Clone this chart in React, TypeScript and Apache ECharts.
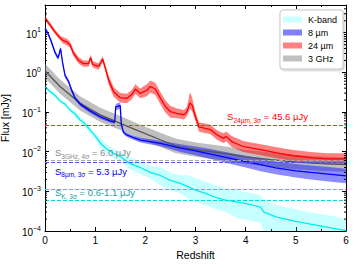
import React, { useEffect, useRef } from 'react';
import * as echarts from 'echarts';

const FONT = '"Liberation Sans", Arial, Helvetica, sans-serif';

// ---- 24 micron (red) ----
const redZ = [0, 0.1, 0.2, 0.3, 0.37, 0.43, 0.5, 0.57, 0.67, 0.77, 0.87, 0.91, 0.95, 1.07, 1.15, 1.2, 1.27, 1.37, 1.5, 1.63, 1.73, 1.8, 1.9, 2.03, 2.1, 2.2, 2.3, 2.4, 2.5, 2.63, 2.77, 2.83, 2.89, 2.93, 3.0, 3.07, 3.3, 3.42, 3.55, 3.62, 3.72, 3.95, 4.3, 4.62, 4.95, 5.3, 5.62, 5.95, 6.0];
const redF = [23.4, 15.8, 10.5, 7.4, 6.3, 5.9, 5.0, 3.0, 2.0, 1.66, 1.66, 2.34, 1.58, 1.41, 2.14, 1.32, 0.63, 0.32, 0.23, 0.22, 0.275, 0.38, 0.295, 0.355, 0.44, 0.38, 0.224, 0.138, 0.102, 0.093, 0.085, 0.102, 0.17, 0.151, 0.076, 0.042, 0.036, 0.027, 0.022, 0.024, 0.018, 0.0135, 0.0112, 0.0093, 0.0079, 0.0071, 0.0066, 0.0066, 0.0071];
const redHi = [26.9, 18.2, 12.0, 8.5, 7.6, 7.1, 6.0, 3.6, 2.4, 2.0, 2.0, 2.8, 1.9, 1.7, 2.57, 1.58, 0.83, 0.42, 0.30, 0.29, 0.36, 0.5, 0.39, 0.5, 0.62, 0.54, 0.32, 0.195, 0.145, 0.123, 0.112, 0.135, 0.32, 0.24, 0.1, 0.055, 0.048, 0.035, 0.029, 0.032, 0.025, 0.0186, 0.0155, 0.0129, 0.011, 0.0098, 0.0091, 0.0091, 0.0098];
const redLo = [20.4, 13.8, 9.1, 6.5, 5.2, 4.9, 4.2, 2.5, 1.66, 1.38, 1.38, 1.95, 1.32, 1.17, 1.78, 1.1, 0.48, 0.24, 0.174, 0.166, 0.21, 0.29, 0.224, 0.25, 0.31, 0.27, 0.158, 0.098, 0.072, 0.071, 0.065, 0.078, 0.12, 0.107, 0.058, 0.032, 0.0275, 0.0204, 0.0166, 0.018, 0.0132, 0.0098, 0.0081, 0.0068, 0.0058, 0.0051, 0.0048, 0.0048, 0.0051];

// ---- 8 micron (blue) ----
const blueZ = [0, 0.03, 0.07, 0.12, 0.2, 0.26, 0.29, 0.31, 0.35, 0.4, 0.47, 0.53, 0.6, 0.7, 0.9, 1.1, 1.3, 1.39, 1.41, 1.5, 1.52, 1.56, 1.62, 1.75, 1.9, 2.3, 2.7, 3.0, 3.3, 3.7, 4.0, 4.3, 4.6, 5.0, 5.3, 5.6, 6.0];
const blueF = [12.6, 11.2, 8.9, 6.3, 3.16, 2.3, 3.16, 4.0, 1.78, 0.83, 0.59, 0.36, 0.224, 0.158, 0.107, 0.076, 0.06, 0.056, 0.135, 0.145, 0.05, 0.0316, 0.0269, 0.0229, 0.0195, 0.0162, 0.0123, 0.0105, 0.0087, 0.0068, 0.0056, 0.0047, 0.0039, 0.0033, 0.003, 0.00275, 0.00245];
const blueHi = [14.1, 12.6, 10, 7.1, 3.55, 2.57, 3.55, 4.5, 2.0, 0.93, 0.66, 0.41, 0.25, 0.178, 0.12, 0.085, 0.068, 0.063, 0.162, 0.174, 0.056, 0.035, 0.03, 0.0257, 0.0224, 0.019, 0.0155, 0.0135, 0.0117, 0.0093, 0.0079, 0.0068, 0.0056, 0.0049, 0.0045, 0.0042, 0.0037];
const blueLo = [11.2, 10, 7.9, 5.6, 2.8, 2.04, 2.8, 3.55, 1.58, 0.74, 0.52, 0.32, 0.2, 0.141, 0.095, 0.068, 0.054, 0.05, 0.112, 0.12, 0.045, 0.028, 0.024, 0.0204, 0.017, 0.0138, 0.0098, 0.0081, 0.0065, 0.0049, 0.004, 0.0032, 0.0027, 0.00224, 0.002, 0.0018, 0.0016];

// ---- 3 GHz (gray) ----
const grayZ = [0, 0.3, 0.7, 1.1, 1.5, 1.9, 2.3, 2.6, 3.0, 3.5, 4.0, 4.5, 5.0, 5.5, 6.0];
const grayF = [1.1, 0.44, 0.166, 0.085, 0.052, 0.032, 0.02, 0.0141, 0.0112, 0.0093, 0.0074, 0.0063, 0.0055, 0.005, 0.0047];
const grayHi = [1.66, 0.66, 0.25, 0.129, 0.079, 0.048, 0.03, 0.0214, 0.017, 0.0141, 0.0112, 0.0095, 0.0083, 0.0076, 0.0071];
const grayLo = [0.72, 0.29, 0.11, 0.056, 0.035, 0.021, 0.0132, 0.0093, 0.0074, 0.0062, 0.0049, 0.0042, 0.0036, 0.0033, 0.0031];

// ---- K-band (cyan) ----
const kZ = [0, 0.1, 0.2, 0.3, 0.4, 0.5, 0.6, 0.7, 0.77, 0.87, 0.93, 1.0, 1.03, 1.1, 1.23, 1.37, 1.5, 1.7, 1.9, 2.1, 2.3, 2.5, 2.7, 2.85, 3.0, 3.2, 3.42, 3.6, 3.82, 4.1, 4.3, 4.36, 4.62, 5.0, 5.4, 5.75, 6.0];
const kF = [0.43, 0.33, 0.263, 0.19, 0.158, 0.112, 0.089, 0.063, 0.055, 0.039, 0.0316, 0.0251, 0.0224, 0.0166, 0.0117, 0.0091, 0.0076, 0.005, 0.004, 0.003, 0.00251, 0.0019, 0.00158, 0.00132, 0.00107, 0.00089, 0.00069, 0.0006, 0.00054, 0.00046, 0.0004, 0.0003, 0.000224, 0.000174, 0.000141, 0.000117, 0.000102];
const kHi = [0.48, 0.37, 0.295, 0.214, 0.178, 0.126, 0.107, 0.076, 0.066, 0.047, 0.038, 0.03, 0.027, 0.022, 0.0155, 0.012, 0.01, 0.0072, 0.0058, 0.0044, 0.004, 0.003, 0.0025, 0.0026, 0.00214, 0.00178, 0.00138, 0.0012, 0.00107, 0.00091, 0.00079, 0.0006, 0.00045, 0.00035, 0.00028, 0.000234, 0.0002];
const kLo = [0.38, 0.295, 0.234, 0.17, 0.141, 0.1, 0.074, 0.052, 0.046, 0.032, 0.026, 0.021, 0.0186, 0.0126, 0.0089, 0.0069, 0.0058, 0.0035, 0.00275, 0.0021, 0.00141, 0.00107, 0.00089, 0.00066, 0.00054, 0.00045, 0.00035, 0.0003, 0.000214, 0.000182, 0.000158, 0.000095, 0.00007, 0.000055, 0.000045, 0.000037, 0.000032];

// ---- detection limits (mJy) ----
const limit24 = 0.0456;
const limit3GHz = 0.006;
const limit8 = 0.0053;
const limitKHigh = 0.0011;
const limitKLow = 0.0006;

const legendNames = ['K-band', '8 µm', '24 µm', '3 GHz'];
const legendColors = ['#ccffff', '#8080ff', '#ff8080', '#c0c0c0'];

const xMin = 0;
const xMax = 6;
const yMin = 1e-4;
const yMax = 50;

// minor tick positions on the log axis (2..9 x 10^k)
const minorTicks: number[] = [];
for (let e = -4; e <= 1; e++) {
  for (let m = 2; m <= 9; m++) {
    const v = m * Math.pow(10, e);
    if (v < yMax) minorTicks.push(v);
  }
}

const pairs = (z: number[], f: number[]) => z.map((x, i) => [x, f[i]]);

const band = (name: string, z: number[], hi: number[], lo: number[], fill: string, opacity: number, zl: number) => ({
  type: 'custom',
  name,
  silent: true,
  z: zl,
  itemStyle: { color: fill },
  data: pairs(z, hi),
  renderItem: (params: any, api: any) => {
    if (params.dataIndex !== 0) return null;
    const pts: number[][] = [];
    for (let i = 0; i < z.length; i++) pts.push(api.coord([z[i], hi[i]]));
    for (let i = z.length - 1; i >= 0; i--) pts.push(api.coord([z[i], lo[i]]));
    const cs = params.coordSys;
    return {
      type: 'polygon',
      shape: { points: pts },
      style: { fill, opacity },
      clipPath: { type: 'rect', shape: { x: cs.x, y: cs.y, width: cs.width, height: cs.height } },
    };
  },
});

const subRich = (color: string) => ({
  s: { fontSize: 9.5, color, fontFamily: FONT, verticalAlign: 'top', lineHeight: 12 },
  sub: { fontSize: 6.5, color, fontFamily: FONT, verticalAlign: 'bottom', lineHeight: 8 },
});

const line = (name: string, z: number[], f: number[], color: string, zl: number) => ({
  type: 'line',
  name,
  data: pairs(z, f),
  showSymbol: false,
  symbol: 'none',
  z: zl,
  lineStyle: { color, width: 1.3 },
  itemStyle: { color },
});

// a dedicated, data-less series per detection limit so the dashed line takes its own colour
const limitSeries = (name: string, values: number[], color: string, label: any) => ({
  type: 'line',
  name,
  data: [],
  z: 6,
  itemStyle: { color },
  lineStyle: { color },
  markLine: {
    silent: true,
    symbol: ['none', 'none'],
    precision: 8,
    animation: false,
    lineStyle: { color, type: [4, 2], width: 1, opacity: 1 },
    label: label || { show: false },
    data: values.map((v) => ({ yAxis: v })),
  },
});

const noLabel = { show: false };

const supLabel = (v: number) => {
  const e = Math.round(Math.log10(v));
  const s = e < 0 ? '\u2212' + String(-e) : String(e);
  return `{b|10}{e|${s}}`;
};

export default function App() {
  const ref = useRef<HTMLDivElement>(null);
  useEffect(() => {
    if (!ref.current) return;
    const chart = echarts.init(ref.current, undefined, { renderer: 'svg' });
    const axisLine = { show: true, onZero: false, lineStyle: { color: '#000', width: 1 } };
    const xCommon = {
      type: 'value',
      min: xMin,
      max: xMax,
      interval: 1,
      axisLine,
      axisTick: { show: true, inside: true, length: 4, lineStyle: { color: '#000' } },
      minorTick: { show: true, splitNumber: 2, length: 2, lineStyle: { color: '#000' } },
      splitLine: { show: false },
      minorSplitLine: { show: false },
    };
    const yCommon = {
      type: 'log',
      logBase: 10,
      min: yMin,
      max: yMax,
      axisLine,
      axisTick: { show: true, inside: true, length: 4, lineStyle: { color: '#000' } },
      splitLine: { show: false },
    };
    const option: any = {
      animation: false,
      textStyle: { fontFamily: FONT },
      grid: { left: 45, right: 10, top: 5, bottom: 35, containLabel: false, outerBoundsMode: 'none' },
      legend: {
        orient: 'vertical',
        right: 13,
        top: 10,
        backgroundColor: '#fff',
        borderColor: '#c8c8c8',
        borderWidth: 1,
        borderRadius: 3,
        shadowColor: 'rgba(0,0,0,0.25)',
        shadowBlur: 2,
        shadowOffsetX: 1,
        shadowOffsetY: 1,
        padding: [4, 6, 5, 3],
        itemWidth: 19,
        itemHeight: 6,
        itemGap: 2,
        selectedMode: false,
        textStyle: { fontSize: 9, color: '#000', fontFamily: FONT, lineHeight: 11, padding: [0, 0, 0, 1] },
        data: legendNames.map((n, i) => ({ name: n, icon: 'rect', itemStyle: { color: legendColors[i], borderWidth: 0 } })),
      },
      xAxis: [
        {
          ...xCommon,
          position: 'bottom',
          name: 'Redshift',
          nameLocation: 'middle',
          nameGap: 17,
          nameTextStyle: { fontSize: 10.5, color: '#000', fontFamily: FONT },
          axisLabel: { fontSize: 10, color: '#000', margin: 4, fontFamily: FONT },
        },
        { ...xCommon, position: 'top', axisLabel: noLabel },
      ],
      yAxis: [
        {
          ...yCommon,
          position: 'left',
          name: 'Flux [mJy]',
          nameLocation: 'middle',
          nameGap: 28,
          nameTextStyle: { fontSize: 10.5, color: '#000', fontFamily: FONT },
          axisLabel: {
            margin: 4,
            showMaxLabel: false,
            formatter: supLabel,
            rich: {
              b: { fontSize: 10, color: '#000', fontFamily: FONT, verticalAlign: 'bottom', lineHeight: 13 },
              e: { fontSize: 7, color: '#000', fontFamily: FONT, verticalAlign: 'top', lineHeight: 9 },
            },
          },
        },
        { ...yCommon, position: 'right', axisLabel: noLabel },
      ],
      series: [
        band('K-band', kZ, kHi, kLo, '#00ffff', 0.22, 1),
        band('3 GHz', grayZ, grayHi, grayLo, '#808080', 0.5, 1),
        band('8 µm', blueZ, blueHi, blueLo, '#0000ff', 0.45, 1),
        band('24 µm', redZ, redHi, redLo, '#ff0000', 0.5, 1),
        line('K-band line', kZ, kF, '#00eeee', 3),
        line('3 GHz line', grayZ, grayF, '#555555', 3),
        line('8 µm line', blueZ, blueF, '#0000ff', 4),
        line('24 µm line', redZ, redF, '#ff0000', 5),
        limitSeries('K-band limit high', [limitKHigh], '#00e0e0', null),
        limitSeries('K-band limit low', [limitKLow], '#00e0e0', {
          show: true,
          position: 'insideStartTop',
          distance: [10, 0.5],
          formatter: '{s|S}{sub|K, 3σ}{s| = 0.6-1.1 µJy}',
          rich: subRich('#18a0a0'),
        }),
        limitSeries('3 GHz limit', [limit3GHz], '#a8a8a8', {
          show: true,
          position: 'insideStartTop',
          distance: [10, 0.8],
          formatter: '{s|S}{sub|3GHz, 4σ}{s| = 6.0 µJy}',
          rich: subRich('#888888'),
        }),
        limitSeries('8 µm limit', [limit8], '#5050ff', {
          show: true,
          position: 'insideStartBottom',
          distance: [10, 3.5],
          formatter: '{s|S}{sub|8µm, 3σ}{s| = 5.3 µJy}',
          rich: subRich('#0000ee'),
        }),
        limitSeries('24 µm limit', [limit24], '#ff3030', {
          show: true,
          position: 'insideEndTop',
          distance: [38, 1.8],
          formatter: '{s|S}{sub|24µm, 3σ}{s| = 45.6 µJy}',
          rich: subRich('#ff0000'),
        }),
        {
          type: 'custom',
          silent: true,
          z: 10,
          data: minorTicks.map((v) => [xMin, v]),
          renderItem: (params: any, api: any) => {
            const v = api.value(1);
            const p0 = api.coord([xMin, v]);
            const p1 = api.coord([xMax, v]);
            return {
              type: 'group',
              children: [
                { type: 'line', shape: { x1: p0[0], y1: p0[1], x2: p0[0] + 2, y2: p0[1] }, style: { stroke: '#000', lineWidth: 1 } },
                { type: 'line', shape: { x1: p1[0] - 2, y1: p1[1], x2: p1[0], y2: p1[1] }, style: { stroke: '#000', lineWidth: 1 } },
              ],
            };
          },
        },
      ],
    };
    chart.setOption(option);
    return () => chart.dispose();
  }, []);
  return <div ref={ref} style={{ width: 356, height: 266, position: 'absolute', left: 0, top: 0 }} />;
}
